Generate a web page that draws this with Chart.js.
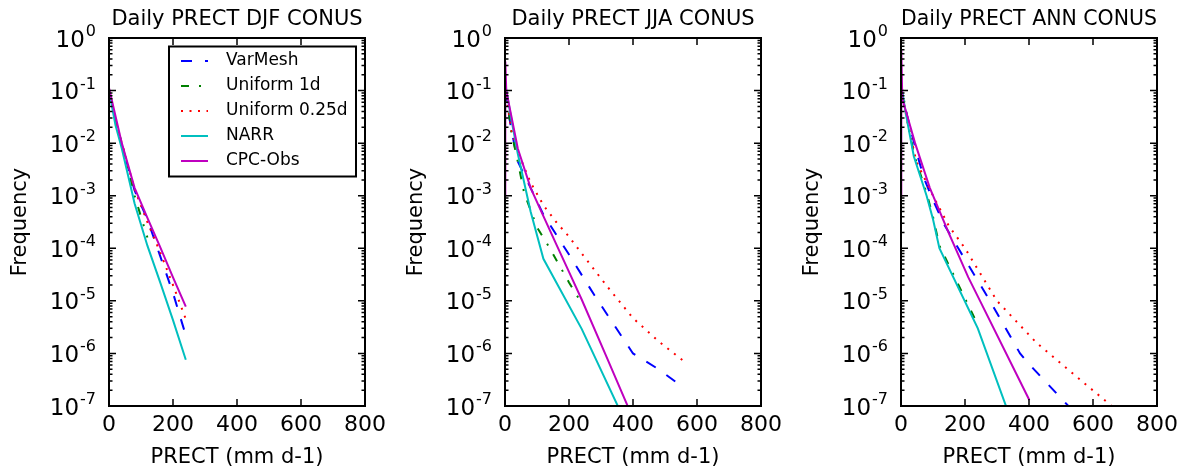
<!DOCTYPE html>
<html>
<head>
<meta charset="utf-8">
<script src="https://cdn.jsdelivr.net/npm/chart.js@4.4.1/dist/chart.umd.min.js"></script>
<style>
  body { margin: 0; background: #fff; }
  .panel { position: absolute; top: 0; width: 396px; height: 475px; }
</style>
</head>
<body>
<div class="panel" style="left:0px"><canvas id="djf" width="396" height="475"></canvas></div>
<div class="panel" style="left:396px"><canvas id="jja" width="396" height="475"></canvas></div>
<div class="panel" style="left:792px"><canvas id="ann" width="396" height="475"></canvas></div>
<script>
// x = PRECT (mm d-1), y = frequency

// DJF
const djfVarMeshX = [0, 20, 40, 80, 120, 160, 200, 240];
const djfVarMeshY = [0.1, 0.0282, 0.0093, 0.00126, 0.000355, 0.0000708, 0.0000141, 0.0000022];
const djfUni1X = [0, 20, 40, 80, 120];
const djfUni1Y = [0.1, 0.028, 0.01, 0.001, 0.00016];
const djfUni025X = [0, 20, 40, 80, 120, 160, 200, 240];
const djfUni025Y = [0.1, 0.028, 0.01, 0.00132, 0.000316, 0.0000832, 0.00002, 0.0000045];
const djfNarrX = [0, 20, 40, 80, 120, 160, 200, 240];
const djfNarrY = [0.1, 0.0224, 0.0079, 0.00071, 0.000112, 0.0000224, 0.0000043, 0.00000076];
const djfCpcX = [0, 40, 80, 120, 160, 200, 240];
const djfCpcY = [0.112, 0.01, 0.00141, 0.00038, 0.000105, 0.000028, 0.0000078];

// JJA
const jjaVarMeshX = [0, 20, 40, 80, 120, 200, 280, 400, 480, 560];
const jjaVarMeshY = [0.1, 0.0178, 0.00447, 0.00141, 0.000437, 0.0000759, 0.0000126, 0.000001, 0.0000005, 0.00000022];
const jjaUni1X = [0, 20, 40, 60, 100, 140, 200, 240];
const jjaUni1Y = [0.141, 0.0158, 0.00447, 0.00112, 0.000251, 0.0001, 0.0000224, 0.0000089];
const jjaUni025X = [0, 20, 40, 80, 120, 160, 200, 240, 320, 400, 480, 555];
const jjaUni025Y = [0.112, 0.0178, 0.00676, 0.00178, 0.00066, 0.000316, 0.000166, 0.0000794, 0.0000186, 0.0000047, 0.0000017, 0.00000074];
const jjaNarrX = [0, 20, 40, 80, 120, 240, 360];
const jjaNarrY = [0.141, 0.0282, 0.0063, 0.0005, 0.000063, 0.0000029, 0.00000008];
const jjaCpcX = [0, 1, 4, 40, 80, 120, 160, 200, 240, 320, 400];
const jjaCpcY = [0.001, 0.355, 0.1, 0.0079, 0.00141, 0.00041, 0.00012, 0.0000355, 0.0000105, 0.00000079, 0.000000058];

// ANN
const annVarMeshX = [0, 20, 48, 72, 100, 135, 179, 278, 372, 400, 523, 540];
const annVarMeshY = [0.112, 0.0316, 0.0069, 0.00214, 0.00083, 0.000282, 0.0001, 0.00001, 0.000001, 0.00000063, 0.0000001, 0.000000078];
const annUni1X = [0, 20, 40, 80, 100, 120, 240];
const annUni1Y = [0.141, 0.0282, 0.0063, 0.00112, 0.000398, 0.000112, 0.0000035];
const annUni025X = [0, 20, 48, 100, 150, 200, 300, 424, 540, 658, 680];
const annUni025Y = [0.112, 0.0251, 0.00447, 0.001, 0.000263, 0.0001, 0.00001, 0.00000158, 0.0000004, 0.0000001, 0.000000079];
const annNarrX = [0, 20, 40, 80, 100, 120, 240, 340];
const annNarrY = [0.126, 0.0251, 0.00562, 0.001, 0.000355, 0.0001, 0.000003, 0.000000063];
const annCpcX = [0, 1, 4, 44, 90, 150, 210, 247, 401];
const annCpcY = [0.001, 0.6, 0.0708, 0.01, 0.00141, 0.00019, 0.0000282, 0.00001, 0.00000013];

const seriesNames = ['VarMesh', 'Uniform 1d', 'Uniform 0.25d', 'NARR', 'CPC-Obs'];
const xTickLabels = [0, 200, 400, 600, 800];
const yTickPowers = [0, -1, -2, -3, -4, -5, -6, -7];

const seriesColors = ['#0000ff', '#008000', '#ff0000', '#00bfbf', '#bf00bf'];
const seriesDashes = [[11, 13], [8, 10, 2, 10], [2, 6.5], [], []];
const FONT = '"DejaVu Sans", sans-serif';

const toPoints = (xs, ys) => xs.map((x, i) => ({ x: x, y: ys[i] }));

// inside ticks, frame and 10^n labels (matplotlib look)
const frameTicks = {
  id: 'frameTicks',
  afterDatasetsDraw(chart) {
    const { ctx, chartArea: a, scales: { x, y } } = chart;
    ctx.save();
    ctx.strokeStyle = '#000';
    ctx.lineWidth = 1.5;
    ctx.beginPath();
    xTickLabels.forEach(v => {
      const px = x.getPixelForValue(v);
      ctx.moveTo(px, a.bottom); ctx.lineTo(px, a.bottom - 7);
      ctx.moveTo(px, a.top); ctx.lineTo(px, a.top + 7);
    });
    yTickPowers.forEach(p => {
      const py = y.getPixelForValue(Math.pow(10, p));
      ctx.moveTo(a.left, py); ctx.lineTo(a.left + 7, py);
      ctx.moveTo(a.right, py); ctx.lineTo(a.right - 7, py);
      if (p > -7) {
        for (let m = 2; m <= 9; m++) {
          const pm = y.getPixelForValue(m * Math.pow(10, p - 1));
          ctx.moveTo(a.left, pm); ctx.lineTo(a.left + 3.5, pm);
          ctx.moveTo(a.right, pm); ctx.lineTo(a.right - 3.5, pm);
        }
      }
    });
    ctx.stroke();
    ctx.lineWidth = 2;
    ctx.strokeRect(a.left, a.top, a.right - a.left, a.bottom - a.top);

    ctx.fillStyle = '#000';
    ctx.textAlign = 'right';
    ctx.textBaseline = 'alphabetic';
    yTickPowers.forEach(p => {
      const py = y.getPixelForValue(Math.pow(10, p));
      const exp = String(p);
      ctx.font = '16px ' + FONT;
      const ew = ctx.measureText(exp).width;
      ctx.fillText(exp, a.left - 13, py - 2);
      ctx.font = '23px ' + FONT;
      ctx.fillText('10', a.left - 13 - ew - 1, py + 8.5);
    });
    ctx.restore();
  }
};

// legend box in the upper right of the first panel
const boxLegend = {
  id: 'boxLegend',
  afterDraw(chart) {
    const { ctx, chartArea: a } = chart;
    const left = a.left + 60, top = a.top + 8.5;
    const right = a.right - 9, bottom = top + 130;
    ctx.save();
    ctx.fillStyle = '#fff';
    ctx.fillRect(left, top, right - left, bottom - top);
    ctx.strokeStyle = '#000';
    ctx.lineWidth = 2;
    ctx.strokeRect(left, top, right - left, bottom - top);
    ctx.font = '17px ' + FONT;
    ctx.textAlign = 'left';
    ctx.textBaseline = 'middle';
    seriesNames.forEach((name, i) => {
      const cy = top + 14.5 + i * 25;
      ctx.beginPath();
      ctx.strokeStyle = seriesColors[i];
      ctx.lineWidth = 2;
      ctx.setLineDash(seriesDashes[i]);
      ctx.moveTo(left + 12, cy);
      ctx.lineTo(left + 39, cy);
      ctx.stroke();
      ctx.setLineDash([]);
      ctx.fillStyle = '#000';
      ctx.fillText(name, left + 57, cy);
    });
    ctx.restore();
  }
};

function makePanel(id, title, xs, ys, withLegend) {
  const datasets = seriesNames.map((name, i) => ({
    label: name,
    data: toPoints(xs[i], ys[i]),
    borderColor: seriesColors[i],
    borderWidth: 2,
    borderDash: seriesDashes[i],
    borderCapStyle: 'butt',
    pointRadius: 0,
    tension: 0,
    fill: false,
    order: 5 - i
  }));

  return new Chart(document.getElementById(id), {
    type: 'line',
    data: { datasets },
    options: {
      responsive: false,
      animation: false,
      devicePixelRatio: 1,
      layout: { padding: { left: 0, right: 31, top: 0, bottom: 0 } },
      plugins: {
        legend: { display: false },
        tooltip: { enabled: false },
        title: {
          display: true,
          text: title,
          fullSize: false,
          color: '#000',
          font: { family: FONT, size: 21, weight: 'normal' },
          padding: { top: 7, bottom: 5.8 }
        }
      },
      scales: {
        x: {
          type: 'linear',
          min: 0,
          max: 800,
          grid: { display: false, drawTicks: false },
          border: { display: false },
          afterBuildTicks: s => { s.ticks = xTickLabels.map(v => ({ value: v })); },
          afterFit: s => { s.height = 69; },
          ticks: {
            color: '#000',
            padding: 6,
            maxRotation: 0,
            font: { family: FONT, size: 22 },
            callback: v => String(v)
          },
          title: {
            display: true,
            text: 'PRECT (mm d-1)',
            color: '#000',
            font: { family: FONT, size: 21 },
            padding: { top: 0, bottom: 4.4 }
          }
        },
        y: {
          type: 'logarithmic',
          min: 1e-7,
          max: 1,
          grid: { display: false, drawTicks: false },
          border: { display: false },
          ticks: { display: false },
          afterFit: s => { s.width = 109; },
          title: {
            display: true,
            text: 'Frequency',
            color: '#000',
            font: { family: FONT, size: 21 },
            padding: { top: 8.4, bottom: 0 }
          }
        }
      }
    },
    plugins: withLegend ? [frameTicks, boxLegend] : [frameTicks]
  });
}

makePanel('djf', 'Daily PRECT DJF CONUS',
  [djfVarMeshX, djfUni1X, djfUni025X, djfNarrX, djfCpcX],
  [djfVarMeshY, djfUni1Y, djfUni025Y, djfNarrY, djfCpcY], true);
makePanel('jja', 'Daily PRECT JJA CONUS',
  [jjaVarMeshX, jjaUni1X, jjaUni025X, jjaNarrX, jjaCpcX],
  [jjaVarMeshY, jjaUni1Y, jjaUni025Y, jjaNarrY, jjaCpcY], false);
makePanel('ann', 'Daily PRECT ANN CONUS',
  [annVarMeshX, annUni1X, annUni025X, annNarrX, annCpcX],
  [annVarMeshY, annUni1Y, annUni025Y, annNarrY, annCpcY], false);
</script>
</body>
</html>
